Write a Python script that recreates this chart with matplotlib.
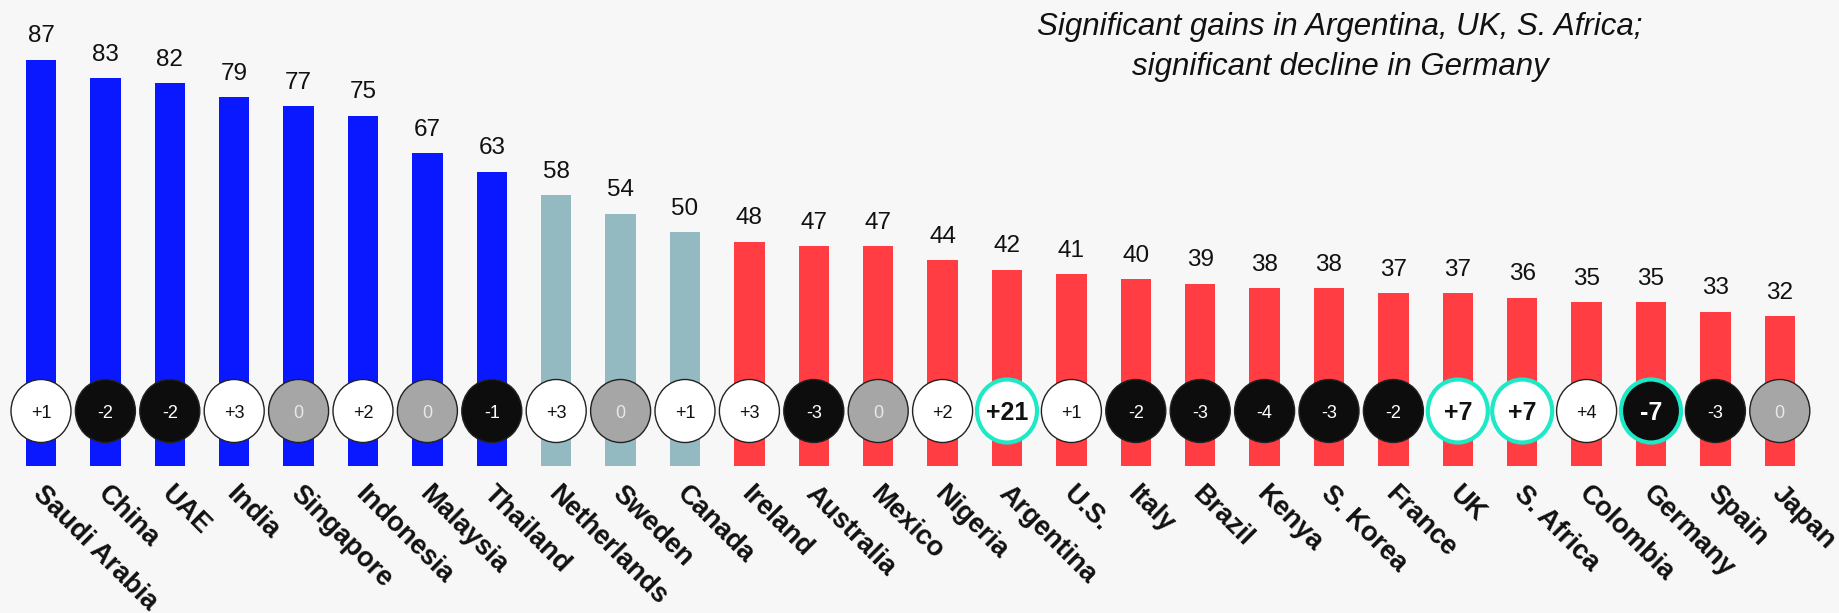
import matplotlib
matplotlib.use("Agg")
import matplotlib.pyplot as plt
from matplotlib.patches import Ellipse

plt.rcParams['font.family'] = ['Liberation Sans', 'DejaVu Sans']

countries = ['Saudi Arabia', 'China', 'UAE', 'India', 'Singapore', 'Indonesia',
             'Malaysia', 'Thailand', 'Netherlands', 'Sweden', 'Canada', 'Ireland',
             'Australia', 'Mexico', 'Nigeria', 'Argentina', 'U.S.', 'Italy', 'Brazil',
             'Kenya', 'S. Korea', 'France', 'UK', 'S. Africa', 'Colombia', 'Germany',
             'Spain', 'Japan']
scores = [87, 83, 82, 79, 77, 75, 67, 63, 58, 54, 50, 48, 47, 47, 44, 42, 41, 40,
          39, 38, 38, 37, 37, 36, 35, 35, 33, 32]
changes = [1, -2, -2, 3, 0, 2, 0, -1, 3, 0, 1, 3, -3, 0, 2, 21, 1, -2, -3, -4, -3,
           -2, 7, 7, 4, -7, -3, 0]
tiers = ['high'] * 8 + ['mid'] * 3 + ['low'] * 17
significant = ['Argentina', 'UK', 'S. Africa', 'Germany']

tier_colors = {'high': '#0A18FF', 'mid': '#93BAC0', 'low': '#FF3D42'}
bg = '#F7F7F7'

W, H = 1839, 613
fig = plt.figure(figsize=(W / 100, H / 100), dpi=100, facecolor=bg)

# axes spans the full width; zero line sits ~466 px from the top
px_per_bar = 64.4
px_per_unit = 4.664
base_px = 465.6
ax = fig.add_axes([0, (H - base_px) / H, 1, base_px / H])
ax.set_facecolor(bg)
x0 = -41 / px_per_bar
ax.set_xlim(x0, x0 + W / px_per_bar)
ax.set_ylim(0, base_px / px_per_unit)
ax.axis('off')

xs = list(range(len(countries)))
ax.bar(xs, scores, width=0.47, color=[tier_colors[t] for t in tiers], zorder=1)

for x, v in zip(xs, scores):
    ax.annotate(str(v), (x, v), xytext=(0, 12.5), textcoords='offset points',
                ha='center', va='baseline', fontsize=17.5, color='#111111')

# change bubbles
cy = (base_px - 411) / px_per_unit
ew = 60 / px_per_bar
eh = 63 / px_per_unit
for x, name, c in zip(xs, countries, changes):
    if c > 0:
        fc, tc = 'white', '#111111'
    elif c < 0:
        fc, tc = '#0D0D0D', 'white'
    else:
        fc, tc = '#A6A6A6', '#E8E8E8'
    sig = name in significant
    ec = '#1DE9C6' if sig else '#222222'
    lw = 3.0 if sig else 1.0
    ax.add_patch(Ellipse((x, cy), ew, eh, facecolor=fc, edgecolor=ec,
                         linewidth=lw, zorder=3))
    label = f'{c:+d}' if c != 0 else '0'
    ax.text(x, cy, label, ha='center', va='center_baseline', color=tc,
            fontsize=18 if sig else 13, fontweight='bold' if sig else 'normal',
            zorder=4)

# rotated country names under the bars
for x, name in zip(xs, countries):
    ax.text(x + 0.08, -3.2, name, rotation=-45, rotation_mode='anchor',
            ha='left', va='top', fontsize=19.5, fontweight='bold', color='#111111')

fig.text(1340 / W, 1 - 35 / H, 'Significant gains in Argentina, UK, S. Africa;',
         ha='center', va='baseline', fontsize=22.5, style='italic', color='#111111')
fig.text(1340 / W, 1 - 75 / H, 'significant decline in Germany',
         ha='center', va='baseline', fontsize=22.5, style='italic', color='#111111')

fig.savefig('out.png', dpi=100, facecolor=bg)
